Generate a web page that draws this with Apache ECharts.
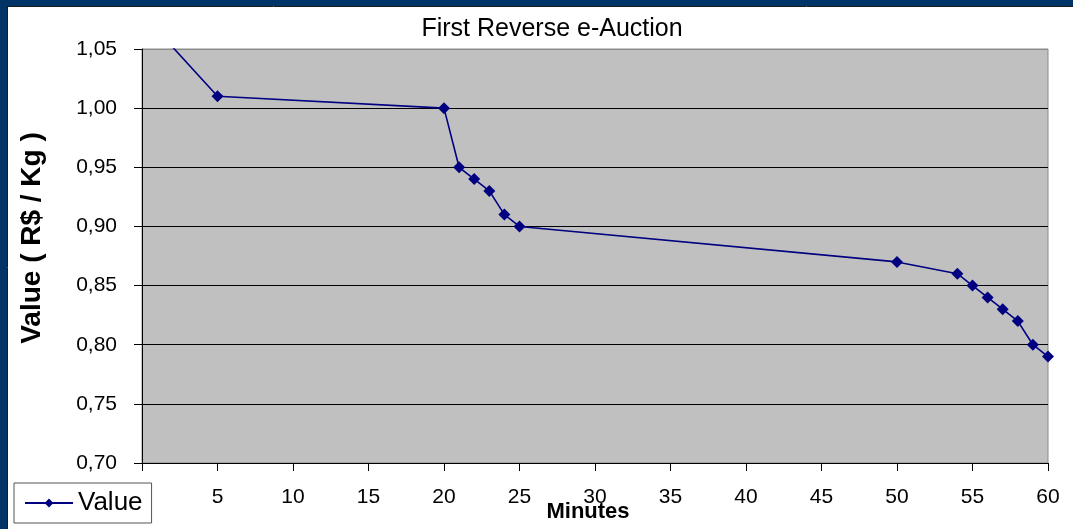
<!DOCTYPE html>
<html>
<head>
<meta charset="utf-8">
<script src="https://cdn.jsdelivr.net/npm/echarts@6/dist/echarts.min.js"></script>
<style>
  html, body { margin: 0; padding: 0; background: #ffffff; }
  #chart { width: 1073px; height: 529px; }
</style>
</head>
<body>
<div id="chart"></div>
<script>
// ---- Data ----
const minutes = [0, 5, 20, 21, 22, 23, 24, 25, 50, 54, 55, 56, 57, 58, 59, 60];
const values  = [1.08, 1.01, 1.00, 0.95, 0.94, 0.93, 0.91, 0.90, 0.87, 0.86, 0.85, 0.84, 0.83, 0.82, 0.80, 0.79];
const seriesName = 'Value';
const chartTitle = 'First Reverse e-Auction';
const xAxisTitle = 'Minutes';
const yAxisTitle = 'Value ( R$ / Kg )';

const FONT = "'Liberation Sans', Arial, sans-serif";
const points = minutes.map((m, i) => [m, values[i]]);

const chart = echarts.init(document.getElementById('chart'), null, { renderer: 'canvas' });
chart.setOption({
  animation: false,
  backgroundColor: '#ffffff',
  textStyle: { fontFamily: FONT, color: '#000' },
  title: {
    text: chartTitle,
    left: 552,
    top: 17,
    textAlign: 'center',
    padding: 0,
    textStyle: { fontFamily: FONT, fontSize: 25, fontWeight: 'normal', color: '#000' }
  },
  legend: {
    left: 14,
    top: 483,
    padding: [7, 9, 7, 10],
    itemWidth: 48,
    itemHeight: 11,
    itemGap: 5,
    backgroundColor: '#ffffff',
    borderColor: '#555555',
    borderWidth: 1,
    borderRadius: 0,
    textStyle: { fontFamily: FONT, fontSize: 26, color: '#000' },
    data: [seriesName]
  },
  grid: {
    left: 142,
    top: 49,
    right: 25,
    bottom: 66,
    outerBoundsMode: 'none',
    containLabel: false,
    show: true,
    backgroundColor: '#c0c0c0',
    borderColor: '#8a8a8a',
    borderWidth: 1
  },
  xAxis: {
    type: 'value',
    min: 0,
    max: 60,
    interval: 5,
    name: xAxisTitle,
    nameLocation: 'middle',
    nameGap: 38,
    nameMoveOverlap: false,
    nameTextStyle: { fontFamily: FONT, fontSize: 22, fontWeight: 'bold', color: '#000', padding: [0, 14, 0, 0] },
    axisLine: { show: true, onZero: false, lineStyle: { color: '#000', width: 1 } },
    axisTick: { show: true, inside: false, length: 8, lineStyle: { color: '#000' } },
    axisLabel: {
      margin: 24,
      fontFamily: FONT,
      fontSize: 21,
      color: '#000',
      formatter: v => (v === 0 ? '' : String(v))
    },
    splitLine: { show: false }
  },
  yAxis: {
    type: 'value',
    min: 0.70,
    max: 1.05,
    interval: 0.05,
    axisLine: { show: true, onZero: false, lineStyle: { color: '#000', width: 1 } },
    axisTick: { show: true, inside: false, length: 8, lineStyle: { color: '#000' } },
    axisLabel: {
      margin: 25,
      fontFamily: FONT,
      fontSize: 21,
      color: '#000',
      formatter: v => v.toFixed(2).replace('.', ',')
    },
    splitLine: {
      show: true,
      lineStyle: { color: ['#000', '#000', '#000', '#000', '#000', '#000', '#000', '#8a8a8a'], width: 1 }
    }
  },
  graphic: [
    { type: 'rect', shape: { x: 0, y: 0, width: 1073, height: 6 }, style: { fill: '#003366' }, z: 100 },
    { type: 'rect', shape: { x: 0, y: 0, width: 7, height: 529 }, style: { fill: '#003366' }, z: 100 },
    { type: 'line', shape: { x1: 7, y1: 6.5, x2: 1073, y2: 6.5 }, style: { stroke: '#1a1a1a', lineWidth: 1 }, z: 100 },
    { type: 'line', shape: { x1: 7.5, y1: 6, x2: 7.5, y2: 529 }, style: { stroke: '#1a1a1a', lineWidth: 1 }, z: 100 },
    {
      type: 'text',
      x: 32,
      y: 238,
      rotation: Math.PI / 2,
      style: {
        text: yAxisTitle,
        fontFamily: FONT,
        fontSize: 28,
        fontWeight: 'bold',
        fill: '#000',
        textAlign: 'center',
        textVerticalAlign: 'middle'
      },
      z: 50
    }
  ],
  series: [{
    name: seriesName,
    type: 'line',
    data: points,
    clip: true,
    symbol: 'diamond',
    symbolSize: 12,
    showAllSymbol: true,
    itemStyle: { color: '#000080' },
    lineStyle: { color: '#000080', width: 1.6 }
  }]
});
</script>
</body>
</html>
